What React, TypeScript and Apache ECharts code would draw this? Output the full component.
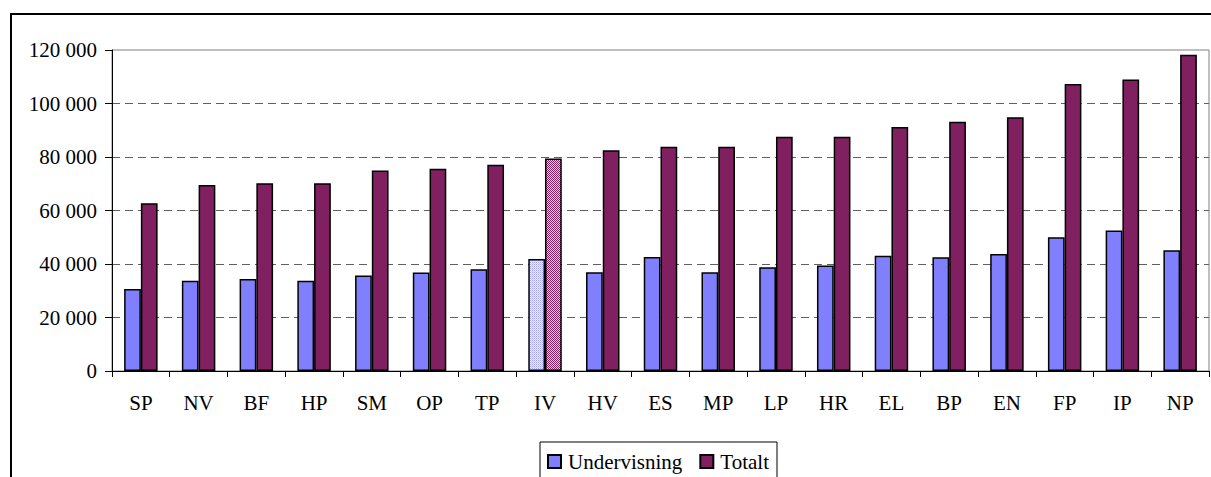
import React, { useEffect, useRef } from "react";
import * as echarts from "echarts";

const categories = ["SP", "NV", "BF", "HP", "SM", "OP", "TP", "IV", "HV", "ES", "MP", "LP", "HR", "EL", "BP", "EN", "FP", "IP", "NP"];
const undervisning = [30700, 33700, 34400, 33700, 35700, 36800, 38000, 41900, 36900, 42600, 36900, 38800, 39400, 43100, 42500, 43700, 50000, 52500, 45100];
const totalt = [62700, 69500, 70200, 70200, 75000, 75600, 77100, 79400, 82500, 83800, 83800, 87600, 87600, 91200, 93200, 94900, 107300, 109000, 118200];
const yTicks = { min: 0, max: 120000, interval: 20000 };
const highlighted = "IV";

const FONT = "'Liberation Serif', 'Times New Roman', serif";
const FS = 21;
const BLUE = "#8080FF";
const MAROON = "#802060";

function makePattern(kind: "blue" | "maroon") {
  const c = document.createElement("canvas");
  c.width = 2;
  c.height = 2;
  const ctx = c.getContext("2d")!;
  if (kind === "blue") {
    ctx.fillStyle = "#F4F4FF";
    ctx.fillRect(0, 0, 2, 2);
    ctx.fillStyle = "#9C9CFF";
    ctx.fillRect(0, 0, 1, 1);
    ctx.fillStyle = "#C8C8FF";
    ctx.fillRect(1, 1, 1, 1);
  } else {
    ctx.fillStyle = "#F0C8E0";
    ctx.fillRect(0, 0, 2, 2);
    ctx.fillStyle = MAROON;
    ctx.fillRect(0, 0, 1, 1);
    ctx.fillRect(1, 1, 1, 1);
  }
  return { image: c, repeat: "repeat" as const };
}

function fmt(v: number) {
  if (v === 0) return "0";
  const s = String(v);
  return s.replace(/\B(?=(\d{3})+(?!\d))/g, " ");
}

export default function App() {
  const ref = useRef<HTMLDivElement>(null);
  useEffect(() => {
    if (!ref.current) return;
    const chart = echarts.init(ref.current, null, { renderer: "svg" });
    const hi = categories.indexOf(highlighted);
    const bluePat = makePattern("blue");
    const marPat = makePattern("maroon");
    chart.setOption({
      animation: false,
      backgroundColor: "#ffffff",
      textStyle: { fontFamily: FONT },
      graphic: [
        {
          type: "rect",
          shape: { x: 11, y: 14, width: 1400, height: 700 },
          style: { fill: "none", stroke: "#000", lineWidth: 2 },
          silent: true,
          z: 100,
        },
      ],
      grid: {
        left: 112,
        right: 2,
        top: 50,
        bottom: 106,
        show: true,
        borderColor: "#808080",
        borderWidth: 1,
        backgroundColor: "transparent",
      },
      legend: {
        left: 540,
        top: 442,
        padding: [9, 8, 9, 7],
        itemWidth: 13,
        itemHeight: 13,
        itemGap: 17,
        borderColor: "#000",
        borderWidth: 1,
        backgroundColor: "#fff",
        icon: "rect",
        textStyle: { fontFamily: FONT, fontSize: FS, color: "#000", padding: [0, 0, 0, 2] },
        data: ["Undervisning", "Totalt"],
      },
      xAxis: {
        type: "category",
        data: categories,
        axisLine: { lineStyle: { color: "#000", width: 1 } },
        axisTick: { show: true, length: 6, lineStyle: { color: "#000" } },
        axisLabel: { fontFamily: FONT, fontSize: FS, color: "#000", margin: 21, interval: 0 },
      },
      yAxis: {
        type: "value",
        min: yTicks.min,
        max: yTicks.max,
        interval: yTicks.interval,
        axisLine: { show: true, lineStyle: { color: "#000", width: 1 } },
        axisTick: { show: true, length: 7, lineStyle: { color: "#000" } },
        axisLabel: { fontFamily: FONT, fontSize: FS, color: "#000", margin: 15, formatter: (v: number) => fmt(v) },
        splitLine: {
          show: true,
          showMinLine: false,
          showMaxLine: false,
          lineStyle: { color: "#606060", type: [8, 5], width: 1 },
        },
      },
      series: [
        {
          name: "Undervisning",
          type: "bar",
          barWidth: "29%",
          barGap: "0%",
          itemStyle: { color: BLUE, borderColor: "#000", borderWidth: 1.5 },
          data: undervisning.map((v, i) => (i === hi ? { value: v, itemStyle: { color: bluePat } } : v)),
        },
        {
          name: "Totalt",
          type: "bar",
          barWidth: "29%",
          barGap: "0%",
          itemStyle: { color: MAROON, borderColor: "#000", borderWidth: 1.5 },
          data: totalt.map((v, i) => (i === hi ? { value: v, itemStyle: { color: marPat } } : v)),
        },
      ],
    });
    return () => chart.dispose();
  }, []);
  return (
    <div
      ref={ref}
      style={{ position: "fixed", left: 0, top: 0, width: 1211, height: 477, overflow: "hidden" }}
    />
  );
}
